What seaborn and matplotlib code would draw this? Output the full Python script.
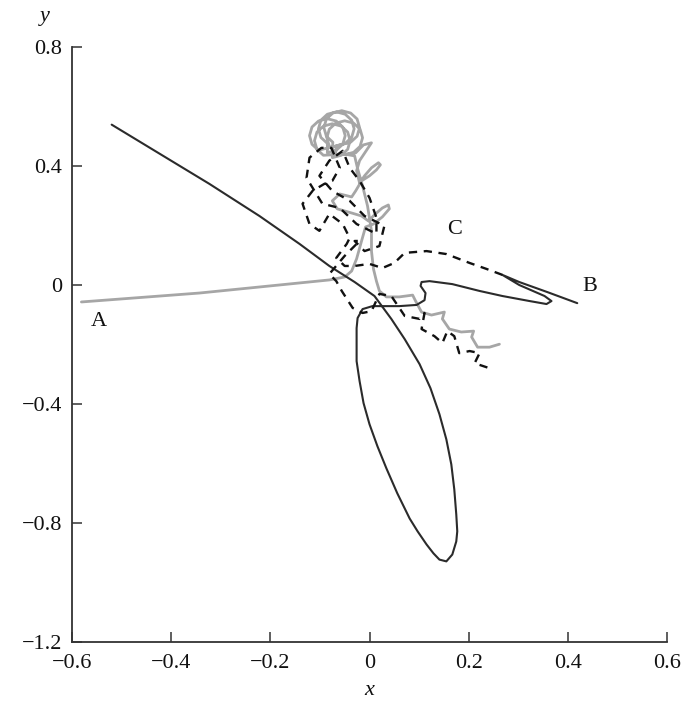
import matplotlib
matplotlib.use("Agg")
import matplotlib.pyplot as plt
import seaborn as sns
import pandas as pd

# ---- data ----
solid_x = [-0.520, -0.423, -0.323, -0.222, -0.141, -0.081, -0.030, 0.010, 0.044, 0.071,
           0.101, 0.123, 0.141, 0.155, 0.165, 0.171, 0.175, 0.177, 0.175, 0.167,
           0.155, 0.141, 0.129, 0.115, 0.097, 0.081, 0.056, 0.034, 0.016, 0.000,
           -0.012, -0.020, -0.026, -0.026, -0.026, -0.024, -0.014, 0.006, 0.060, 0.095,
           0.111, 0.113, 0.103, 0.105, 0.121, 0.167, 0.222, 0.268, 0.323, 0.357,
           0.367, 0.353, 0.302, 0.268, 0.302, 0.359, 0.419]
solid_y = [0.539, 0.441, 0.340, 0.232, 0.138, 0.064, 0.010, -0.037, -0.114, -0.182,
           -0.266, -0.347, -0.434, -0.519, -0.603, -0.687, -0.771, -0.828, -0.862, -0.906,
           -0.929, -0.923, -0.902, -0.872, -0.828, -0.785, -0.700, -0.616, -0.542, -0.468,
           -0.397, -0.323, -0.256, -0.189, -0.145, -0.111, -0.081, -0.071, -0.071, -0.067,
           -0.051, -0.027, -0.003, 0.010, 0.013, 0.003, -0.020, -0.037, -0.054, -0.064,
           -0.054, -0.037, 0.000, 0.034, 0.010, -0.024, -0.061]

# grey trajectory from A: up the left strand with leaf loops
gray_up_x = [-0.581, -0.343, -0.081, -0.050, -0.036, -0.026, -0.016, -0.008, 0.008, 0.026,
             0.040, 0.038, 0.026, 0.010, -0.002, -0.016, -0.036, -0.065, -0.075, -0.060,
             -0.036, -0.028, -0.016, 0.000, 0.014, 0.022, 0.018, 0.004, -0.010, -0.020,
             -0.026, -0.020, -0.004, 0.004, -0.012, -0.028]
gray_up_y = [-0.057, -0.027, 0.017, 0.027, 0.047, 0.088, 0.148, 0.195, 0.205, 0.229,
             0.256, 0.269, 0.259, 0.236, 0.215, 0.232, 0.242, 0.256, 0.283, 0.306,
             0.296, 0.316, 0.350, 0.367, 0.387, 0.404, 0.411, 0.394, 0.367, 0.343,
             0.384, 0.418, 0.458, 0.478, 0.471, 0.444]
# grey loops at the top
gray_loop_x = [-0.050, -0.032, -0.019, -0.014, -0.019, -0.032, -0.050, -0.068, -0.081, -0.086, -0.081, -0.068,
               -0.067, -0.049, -0.036, -0.031, -0.036, -0.049, -0.067, -0.085, -0.098, -0.103, -0.098, -0.085,
               -0.085, -0.067, -0.054, -0.049, -0.054, -0.067, -0.085, -0.103, -0.116, -0.121, -0.116, -0.103,
               -0.056, -0.038, -0.025, -0.020, -0.025, -0.038, -0.056, -0.074, -0.087, -0.092, -0.087, -0.074,
               -0.075, -0.057, -0.044, -0.039, -0.044, -0.057, -0.075, -0.093, -0.106, -0.111, -0.106, -0.093,
               -0.050]
gray_loop_y = [0.438, 0.446, 0.466, 0.495, 0.524, 0.544, 0.552, 0.544, 0.524, 0.495, 0.466, 0.446,
               0.468, 0.476, 0.496, 0.525, 0.554, 0.574, 0.582, 0.574, 0.554, 0.525, 0.496, 0.476,
               0.445, 0.453, 0.473, 0.502, 0.531, 0.551, 0.559, 0.551, 0.531, 0.502, 0.473, 0.453,
               0.472, 0.480, 0.500, 0.529, 0.558, 0.578, 0.586, 0.578, 0.558, 0.529, 0.500, 0.480,
               0.428, 0.436, 0.456, 0.485, 0.514, 0.534, 0.542, 0.534, 0.514, 0.485, 0.456, 0.436,
               0.440]
# grey path back down the right strand and the saw-tooth to the right
gray_down_x = [-0.030, -0.024, -0.014, -0.004, 0.004, 0.004, 0.008, 0.014, 0.020, 0.034,
               0.060, 0.087, 0.093, 0.105, 0.125, 0.151, 0.147, 0.161, 0.185, 0.210,
               0.206, 0.218, 0.242, 0.262]
gray_down_y = [0.434, 0.391, 0.333, 0.266, 0.182, 0.114, 0.054, 0.013, -0.020, -0.040,
               -0.040, -0.034, -0.054, -0.091, -0.101, -0.091, -0.114, -0.148, -0.158, -0.155,
               -0.175, -0.209, -0.209, -0.199]

dash_x = [0.268, 0.236, 0.202, 0.155, 0.115, 0.071, 0.050, 0.026, 0.000, -0.030,
          -0.050, -0.067, -0.046, -0.040, -0.054, -0.081, -0.101, -0.121, -0.135, -0.115,
          -0.091, -0.075, -0.060, -0.077, -0.097, -0.121, -0.127, -0.095, -0.060, -0.026,
          0.014, 0.014, 0.000, -0.020, -0.040, -0.054, -0.081, -0.101, -0.075, -0.040,
          -0.010, 0.030, 0.020, -0.010, -0.030, -0.020, -0.050, -0.081, -0.067, -0.056,
          -0.034, -0.014, 0.004, 0.020, 0.044, 0.071, 0.101, 0.111, 0.105, 0.131,
          0.147, 0.157, 0.171, 0.181, 0.202, 0.222, 0.212, 0.248]
dash_y = [0.034, 0.054, 0.074, 0.104, 0.114, 0.108, 0.074, 0.057, 0.071, 0.064,
          0.064, 0.091, 0.138, 0.158, 0.205, 0.239, 0.182, 0.205, 0.273, 0.316,
          0.340, 0.350, 0.394, 0.461, 0.461, 0.428, 0.360, 0.273, 0.259, 0.205,
          0.172, 0.226, 0.293, 0.350, 0.394, 0.451, 0.418, 0.367, 0.316, 0.283,
          0.232, 0.199, 0.131, 0.114, 0.148, 0.148, 0.098, 0.037, 0.013, -0.020,
          -0.077, -0.094, -0.088, -0.030, -0.037, -0.104, -0.114, -0.094, -0.148, -0.172,
          -0.195, -0.155, -0.172, -0.229, -0.222, -0.229, -0.263, -0.283]

point_labels = ["A", "B", "C"]
label_x = [-0.545, 0.445, 0.172]
label_y = [-0.122, -0.004, 0.188]

x_ticks = [-0.6, -0.4, -0.2, 0.0, 0.2, 0.4, 0.6]
x_tick_labels = ["\u22120.6", "\u22120.4", "\u22120.2", "0", "0.2", "0.4", "0.6"]
y_ticks = [0.8, 0.4, 0.0, -0.4, -0.8, -1.2]
y_tick_labels = ["0.8", "0.4", "0", "\u22120.4", "\u22120.8", "\u22121.2"]

# ---- plotting ----
sns.set_theme(style="ticks")
plt.rcParams["font.family"] = ["Liberation Serif", "DejaVu Serif"]

fig = plt.figure(figsize=(6.83, 7.01), dpi=100)
ax = fig.add_axes([72 / 683, 59 / 701, 595 / 683, 595 / 701])

df_gray = pd.DataFrame({"x": gray_up_x + gray_loop_x + gray_down_x,
                        "y": gray_up_y + gray_loop_y + gray_down_y})
df_solid = pd.DataFrame({"x": solid_x, "y": solid_y})
df_dash = pd.DataFrame({"x": dash_x, "y": dash_y})

sns.lineplot(data=df_gray, x="x", y="y", sort=False, estimator=None, ax=ax,
             color="#a6a6a6", linewidth=2.0)
sns.lineplot(data=df_solid, x="x", y="y", sort=False, estimator=None, ax=ax,
             color="#2b2b2b", linewidth=1.5)
sns.lineplot(data=df_dash, x="x", y="y", sort=False, estimator=None, ax=ax,
             color="#111111", linewidth=1.7)
ax.lines[-1].set_dashes((3.5, 2.8))
for ln in ax.lines:
    ln.set_solid_joinstyle("round")
    ln.set_dash_joinstyle("round")

for t, lx, ly in zip(point_labels, label_x, label_y):
    ax.text(lx, ly, t, fontsize=16, ha="center", va="center", color="#111111")

ax.set_xlim(-0.6, 0.6)
ax.set_ylim(-1.2, 0.8)
ax.set_xticks(x_ticks)
ax.set_xticklabels(x_tick_labels)
ax.set_yticks(y_ticks)
ax.set_yticklabels(y_tick_labels)

ax.tick_params(direction="in", length=7.5, width=1.1, labelsize=16, pad=7,
               color="#333333", labelcolor="#111111")
ax.tick_params(axis="x", pad=9)
for s in ["top", "right"]:
    ax.spines[s].set_visible(False)
for s in ["left", "bottom"]:
    ax.spines[s].set_linewidth(1.3)
    ax.spines[s].set_color("#333333")

ax.set_xlabel("x", fontsize=16, fontstyle="italic", color="#111111")
ax.set_ylabel("y", fontsize=16, fontstyle="italic", color="#111111", rotation=0)
ax.xaxis.label.set_va("center")
ax.yaxis.label.set_va("center")
ax.yaxis.label.set_ha("center")
ax.xaxis.set_label_coords(0.5, -0.081)
ax.yaxis.set_label_coords(-0.045, 1.052)

fig.savefig("out.png", dpi=100, facecolor="white")
